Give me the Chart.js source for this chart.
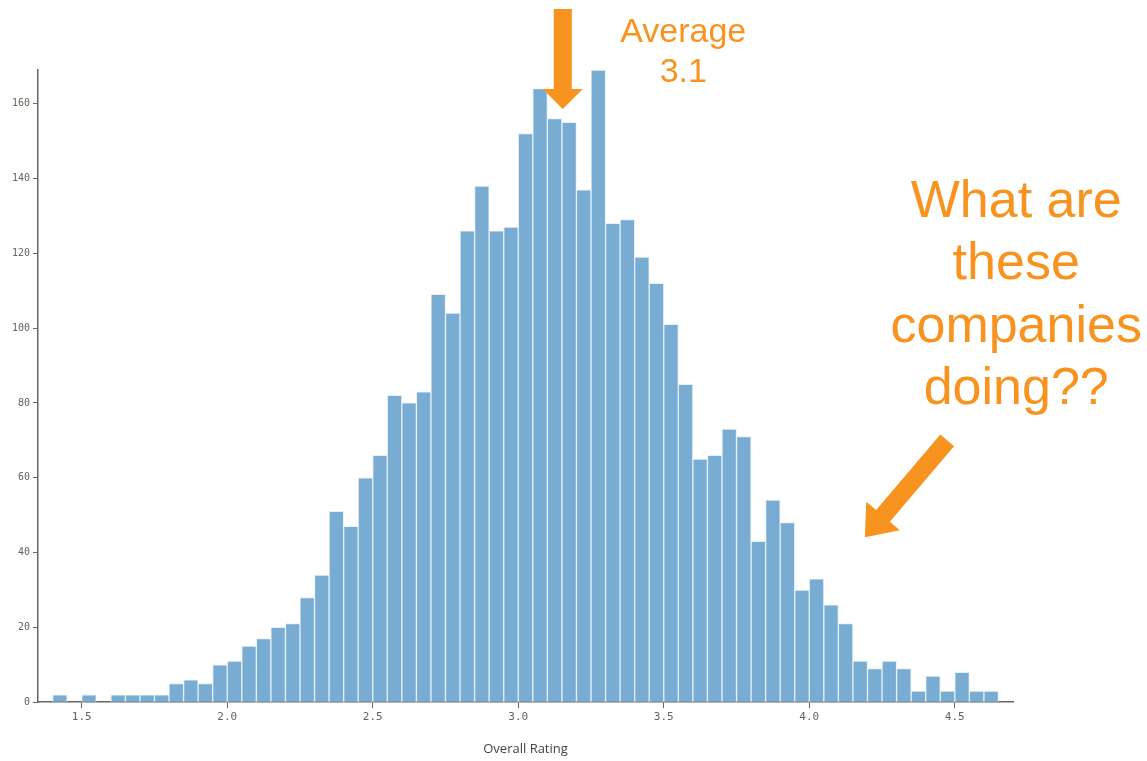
<!DOCTYPE html>
<html>
<head>
<meta charset="utf-8">
<script src="https://cdn.jsdelivr.net/npm/chart.js@4.4.1/dist/chart.umd.min.js"></script>
<style>
  html, body { margin: 0; padding: 0; background: #fff; }
  canvas { display: block; }
</style>
</head>
<body>
<canvas id="myChart" width="1147" height="761"></canvas>
<script>
// histogram bins (left edge), width 0.05
const binStarts = [1.40,1.45,1.50,1.55,1.60,1.65,1.70,1.75,1.80,1.85,1.90,1.95,
  2.00,2.05,2.10,2.15,2.20,2.25,2.30,2.35,2.40,2.45,2.50,2.55,2.60,2.65,2.70,2.75,
  2.80,2.85,2.90,2.95,3.00,3.05,3.10,3.15,3.20,3.25,3.30,3.35,3.40,3.45,3.50,3.55,
  3.60,3.65,3.70,3.75,3.80,3.85,3.90,3.95,4.00,4.05,4.10,4.15,4.20,4.25,4.30,4.35,
  4.40,4.45,4.50,4.55,4.60];
const counts = [2,0,2,0,2,2,2,2,5,6,5,10,
  11,15,17,20,21,28,34,51,47,60,66,82,80,83,109,104,
  126,138,126,127,152,164,156,155,137,169,128,129,119,112,101,85,
  65,66,73,71,43,54,48,30,33,26,21,11,9,11,9,3,
  7,3,8,3,3];
const binWidth = 0.05;
const xTicks = [1.5, 2.0, 2.5, 3.0, 3.5, 4.0, 4.5];
const yTicks = [0, 20, 40, 60, 80, 100, 120, 140, 160];
const averageLabel = ['Average', '3.1'];
const calloutLabel = ['What are', 'these', 'companies', 'doing??'];

const orange = '#f7931e';

function drawArrow(ctx, x1, y1, x2, y2, shaftW, headW, headL) {
  const ang = Math.atan2(y2 - y1, x2 - x1);
  const len = Math.hypot(x2 - x1, y2 - y1);
  ctx.save();
  ctx.translate(x1, y1);
  ctx.rotate(ang);
  ctx.beginPath();
  ctx.moveTo(0, -shaftW / 2);
  ctx.lineTo(len - headL, -shaftW / 2);
  ctx.lineTo(len - headL, -headW / 2);
  ctx.lineTo(len, 0);
  ctx.lineTo(len - headL, headW / 2);
  ctx.lineTo(len - headL, shaftW / 2);
  ctx.lineTo(0, shaftW / 2);
  ctx.closePath();
  ctx.fillStyle = orange;
  ctx.fill();
  ctx.restore();
}

const annotations = {
  id: 'annotations',
  afterDatasetsDraw(chart) {
    const ctx = chart.ctx;
    const x = chart.scales.x, y = chart.scales.y;
    // arrow pointing at the average
    drawArrow(ctx, x.getPixelForValue(3.153), y.getPixelForValue(185.3),
      x.getPixelForValue(3.153), y.getPixelForValue(158.6), 18, 40, 20);
    // arrow pointing at the high tail
    drawArrow(ctx, x.getPixelForValue(4.474), y.getPixelForValue(70),
      x.getPixelForValue(4.191), y.getPixelForValue(44.1), 18, 44, 28);

    ctx.save();
    ctx.fillStyle = orange;
    ctx.textAlign = 'center';
    ctx.textBaseline = 'alphabetic';
    ctx.font = '34px "Liberation Sans", Arial, sans-serif';
    averageLabel.forEach((t, i) => {
      ctx.fillText(t, x.getPixelForValue(3.567), y.getPixelForValue(176.4) + i * 40);
    });
    ctx.font = '52px "Liberation Sans", Arial, sans-serif';
    calloutLabel.forEach((t, i) => {
      ctx.fillText(t, x.getPixelForValue(4.711), y.getPixelForValue(129.8) + i * 62.5);
    });
    ctx.restore();
  }
};

const ctx = document.getElementById('myChart').getContext('2d');

const myChart = new Chart(ctx, {
  type: 'bar',
  data: {
    datasets: [{
      label: 'Companies',
      data: binStarts.map((b, i) => ({ x: b + binWidth / 2, y: counts[i] })),
      backgroundColor: '#78acd2',
      borderColor: '#e6f0f8',
      borderWidth: 1,
      borderSkipped: 'bottom',
      barPercentage: 1,
      categoryPercentage: 1
    }]
  },
  options: {
    responsive: false,
    animation: false,
    layout: { padding: { top: 70, right: 134, bottom: 4, left: 9 } },
    plugins: {
      legend: { display: false },
      tooltip: { enabled: false }
    },
    scales: {
      x: {
        type: 'linear',
        min: 1.35,
        max: 4.7,
        offset: false,
        afterBuildTicks: axis => { axis.ticks = xTicks.map(v => ({ value: v })); },
        grid: { offset: false, drawOnChartArea: false, drawTicks: true, tickLength: 6, color: '#666' },
        border: { display: true, color: '#666', width: 1.5 },
        ticks: {
          color: '#6b625a',
          font: { family: '"DejaVu Sans Mono", monospace', size: 11 },
          padding: 2,
          maxRotation: 0,
          callback: v => Number(v).toFixed(1)
        },
        title: {
          display: true,
          text: 'Overall Rating',
          color: '#444',
          font: { family: '"Open Sans", sans-serif', size: 13 },
          padding: { top: 16, bottom: 0 }
        }
      },
      y: {
        min: 0,
        max: 169,
        afterBuildTicks: axis => { axis.ticks = yTicks.map(v => ({ value: v })); },
        grid: { drawOnChartArea: false, drawTicks: true, tickLength: 5, color: '#666' },
        border: { display: true, color: '#666', width: 1.5 },
        ticks: {
          color: '#6b625a',
          font: { family: '"DejaVu Sans Mono", monospace', size: 10 },
          padding: 3
        }
      }
    }
  },
  plugins: [annotations]
});
</script>
</body>
</html>
